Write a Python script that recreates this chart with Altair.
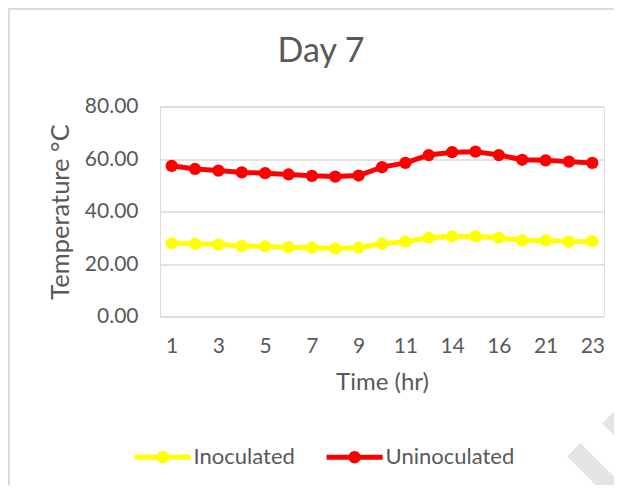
import altair as alt
import pandas as pd

hours = ["1", "2", "3", "4", "5", "6", "7", "8", "9", "10", "11", "12",
         "14", "15", "16", "18", "21", "22", "23"]
shown_hours = ["1", "3", "5", "7", "9", "11", "14", "16", "21", "23"]
inoculated = [27.9, 27.7, 27.4, 26.9, 26.7, 26.4, 26.2, 25.9, 26.2, 27.7,
              28.5, 30.0, 30.5, 30.5, 30.0, 29.0, 29.0, 28.5, 28.7]
uninoculated = [57.4, 56.2, 55.6, 54.9, 54.6, 54.1, 53.6, 53.3, 53.7, 56.9,
                58.5, 61.5, 62.6, 62.8, 61.5, 59.7, 59.5, 59.0, 58.5]
series_names = ["Inoculated", "Uninoculated"]
series_colors = ["#FFFF00", "#FF0000"]
y_ticks = [0, 20, 40, 60, 80]

rows = []
for name, vals in zip(series_names, [inoculated, uninoculated]):
    for h, v in zip(hours, vals):
        rows.append({"Time": h, "Temp": v, "Series": name})
df = pd.DataFrame(rows)

FONT = "Lato"
GREY = "#595959"

legend_symbol = ("M-2.5,-0.22L2.5,-0.22L2.5,0.22L-2.5,0.22Z"
                 "M-0.55,0A0.55,0.55 0 1,1 0.55,0A0.55,0.55 0 1,1 -0.55,0Z")

x_enc = alt.X("Time:O", sort=hours,
              scale=alt.Scale(type="point", padding=0.5),
              axis=alt.Axis(values=shown_hours, labelAngle=0, ticks=False, tickSize=0,
                            domain=False, grid=False, labelFontSize=21,
                            labelColor=GREY, labelFont=FONT, labelPadding=19,
                            title="Time (hr)", titleFontSize=24, titleFont=FONT,
                            titleColor=GREY, titleFontWeight="normal",
                            titleY=72.5, titleBaseline="alphabetic"))
y_enc = alt.Y("Temp:Q",
              scale=alt.Scale(domain=[0, 80], nice=False, zero=True),
              axis=alt.Axis(values=y_ticks, format=".2f", ticks=False, tickSize=0,
                            domain=False, grid=True, gridColor="#d9d9d9",
                            gridWidth=1.3, labelFontSize=21, labelColor=GREY,
                            labelFont=FONT, labelPadding=22,
                            title="Temperature °C", titleFontSize=25.5,
                            titleFont=FONT, titleColor=GREY,
                            titleFontWeight="normal", titleX=-92,
                            titleBaseline="alphabetic"))
color_scale = alt.Scale(domain=series_names, range=series_colors)
legend = alt.Legend(title=None, orient="none", direction="horizontal",
                    columns=2, legendX=-8.9, legendY=339,
                    symbolType=legend_symbol, symbolSize=502,
                    symbolStrokeWidth=0, symbolOpacity=1,
                    labelOffset=19.5, labelFontSize=22,
                    labelFont=FONT, labelColor=GREY,
                    columnPadding=31, padding=0, labelLimit=300)

lines = alt.Chart(df).mark_line(strokeWidth=5).encode(
    x=x_enc, y=y_enc,
    color=alt.Color("Series:N", scale=color_scale, legend=legend),
    detail="Series:N",
)
points = alt.Chart(df).mark_point(filled=True, size=150, opacity=1,
                                  shape="circle").encode(
    x=x_enc, y=y_enc,
    color=alt.Color("Series:N", scale=color_scale, legend=legend),
)

RULE_GREY = "#d9d9d9"
border_top = alt.Chart(df).mark_rule(color=RULE_GREY, strokeWidth=1.5).encode(
    x=alt.value(-151.5), x2=alt.value(470), y=alt.value(-98))
border_left = alt.Chart(df).mark_rule(color=RULE_GREY, strokeWidth=1.5).encode(
    x=alt.value(-151.5), y=alt.value(-98), y2=alt.value(400))
mark_a = alt.Chart(df).mark_rule(color="#e4e4e4", strokeWidth=18,
                                 strokeCap="butt").encode(
    x=alt.value(414), x2=alt.value(480), y=alt.value(343.5), y2=alt.value(409.5))
mark_b = alt.Chart(df).mark_rule(color="#e4e4e4", strokeWidth=18,
                                 strokeCap="butt").encode(
    x=alt.value(449), x2=alt.value(495), y=alt.value(310.5), y2=alt.value(356.5))

chart = alt.layer(mark_a, mark_b, border_top, border_left, lines, points).properties(
    width=444, height=210,
    autosize=alt.AutoSizeParams(type="none"),
    padding={"left": 152, "top": 98.5, "right": 10, "bottom": 168.5},
    title=alt.TitleParams("Day 7", fontSize=34, font=FONT, color=GREY,
                          fontWeight="normal", anchor="middle", dx=-61,
                          baseline="alphabetic", offset=0, dy=88.5),
).configure_view(stroke=None).configure(background="white")

chart.save("out.html", embed_options={"renderer": "svg", "actions": False})
